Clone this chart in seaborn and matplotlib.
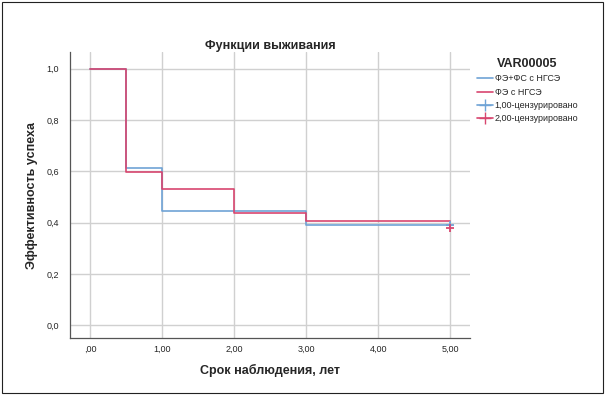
import matplotlib
matplotlib.use("Agg")
import matplotlib.pyplot as plt
import seaborn as sns
import pandas as pd
from matplotlib.lines import Line2D
from matplotlib.patches import Rectangle

# Data
times = [0.0, 0.5, 1.0, 2.0, 3.0, 5.0]
surv_a = [1.0, 0.615, 0.447, 0.445, 0.392, 0.392]   # ФЭ+ФС с НГСЭ
surv_b = [1.0, 0.598, 0.533, 0.438, 0.405, 0.405]   # ФЭ с НГСЭ
censor_time = [5.0, 5.0]
censor_val = [0.392, 0.378]
groups = ["ФЭ+ФС с НГСЭ", "ФЭ с НГСЭ"]
censor_labels = ["1,00-цензурировано", "2,00-цензурировано"]
xticks = [0, 1, 2, 3, 4, 5]
xticklabels = [",00", "1,00", "2,00", "3,00", "4,00", "5,00"]
yticks = [0.0, 0.2, 0.4, 0.6, 0.8, 1.0]
yticklabels = ["0,0", "0,2", "0,4", "0,6", "0,8", "1,0"]

blue = "#6fa3d6"
red = "#d8466f"
palette = {groups[0]: blue, groups[1]: red}

sns.set_theme(style="white")
plt.rcParams['font.family'] = ['Liberation Sans', 'DejaVu Sans']

df = pd.DataFrame({
    "t": times * 2,
    "s": surv_a + surv_b,
    "g": [groups[0]] * len(times) + [groups[1]] * len(times),
})

fig = plt.figure(figsize=(6.05, 3.95), dpi=100)
ax = fig.add_axes([0.1157, 0.1443, 0.661, 0.7237])

sns.lineplot(data=df, x="t", y="s", hue="g", palette=palette, estimator=None,
             drawstyle="steps-post", linewidth=1.2, ax=ax, legend=False, zorder=3)
ax.scatter(censor_time[:1], censor_val[:1], marker="+", color=blue, s=40, linewidths=1.3, zorder=4)
ax.scatter(censor_time[1:], censor_val[1:], marker="+", color=red, s=40, linewidths=1.3, zorder=4)

ax.set_xlim(-0.28, 5.27)
ax.set_ylim(-0.05, 1.065)
ax.set_xticks(xticks)
ax.set_xticklabels(xticklabels, fontsize=6.5)
ax.set_yticks(yticks)
ax.set_yticklabels(yticklabels, fontsize=6.5)
ax.tick_params(axis="x", length=0, pad=5)
ax.tick_params(axis="y", length=0, pad=8)
ax.grid(True, color="#d0d0d0", linewidth=1.0)
ax.set_axisbelow(True)
for sp in ["top", "right"]:
    ax.spines[sp].set_visible(False)
for sp in ["left", "bottom"]:
    ax.spines[sp].set_color("#555555")
    ax.spines[sp].set_linewidth(0.9)

ax.set_xlabel("Срок наблюдения, лет", fontsize=9, fontweight="bold", labelpad=7)
ax.set_ylabel("Эффективность успеха", fontsize=9, fontweight="bold", labelpad=6)
ax.set_title("Функции выживания", fontsize=9, fontweight="bold", pad=2)

handles = [
    Line2D([0], [0], color=blue, lw=1.2),
    Line2D([0], [0], color=red, lw=1.2),
    Line2D([0], [0], color=blue, lw=1.2, marker="+", markersize=8),
    Line2D([0], [0], color=red, lw=1.2, marker="+", markersize=8),
]
leg = fig.legend(handles, groups + censor_labels, title="VAR00005",
                 loc="upper left", bbox_to_anchor=(0.782, 0.862), frameon=False,
                 fontsize=6.5, handlelength=1.8, handletextpad=0.2,
                 labelspacing=0.48, borderaxespad=0)
leg.get_title().set_fontweight("bold")
leg.get_title().set_fontsize(9)
leg._legend_box.align = "center"

fig.add_artist(Rectangle((0.004, 0.006), 0.992, 0.988, transform=fig.transFigure,
                         fill=False, edgecolor="#222222", linewidth=0.8))

fig.savefig("out.png", dpi=100)
